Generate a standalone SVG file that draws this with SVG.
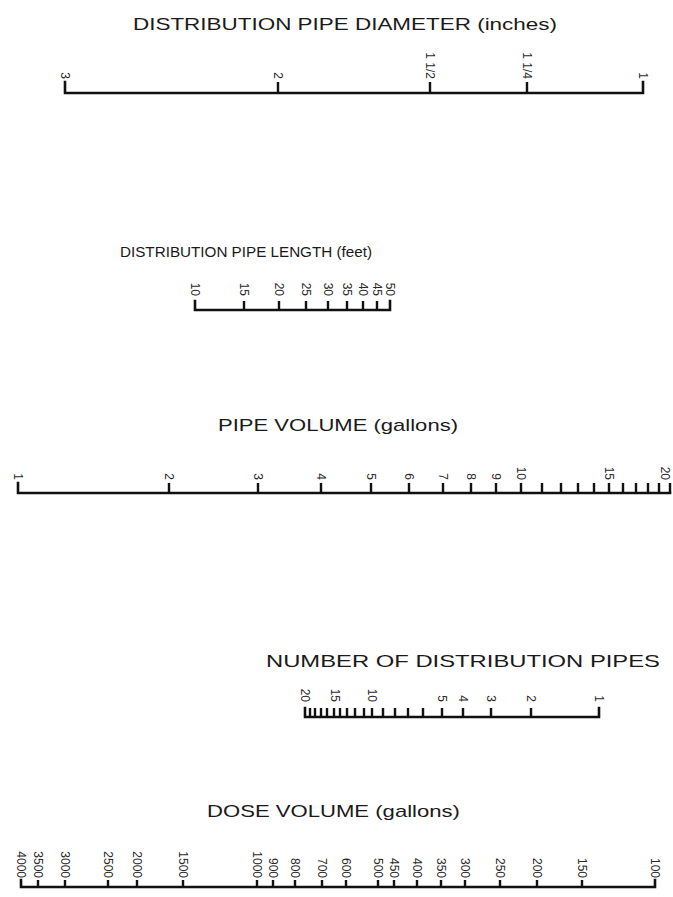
<svg xmlns="http://www.w3.org/2000/svg" width="673" height="897" viewBox="0 0 673 897">
<style>
.bg{fill:#fff}
.title{font-family:"Liberation Sans",Arial,sans-serif;font-size:17px;fill:#1a1a1a}
.small{font-size:14.5px}
.lbl{font-family:"Liberation Sans",Arial,sans-serif;font-size:12px;fill:#2a2a2a;text-anchor:end}
.axis{fill:none;stroke:#111;stroke-width:2.6;stroke-linecap:square}
.tick{fill:none;stroke:#111;stroke-width:2.4}
</style>
<rect class="bg" x="0" y="0" width="673" height="897"/>

<g id="diameter">
<text class="title" x="133" y="30" textLength="424" lengthAdjust="spacingAndGlyphs">DISTRIBUTION PIPE DIAMETER (inches)</text>
<path class="axis" d="M65,82 V93 H643 V82"/>
<path class="tick" d="M278,82V93 M430,82V93 M527,82V93"/>
<g class="lbl">
<text transform="translate(65,79) rotate(90)" dy="0.35em">3</text>
<text transform="translate(278,79) rotate(90)" dy="0.35em">2</text>
<text transform="translate(430,79) rotate(90)" dy="0.35em">1 1/2</text>
<text transform="translate(527,79) rotate(90)" dy="0.35em">1 1/4</text>
<text transform="translate(643,79) rotate(90)" dy="0.35em">1</text>
</g>
</g>

<g id="length">
<text class="title small" x="120" y="257" textLength="252" lengthAdjust="spacingAndGlyphs">DISTRIBUTION PIPE LENGTH (feet)</text>
<path class="axis" d="M195,301 V310 H390 V301"/>
<path class="tick" d="M244,301V310 M279,301V310 M306,301V310 M328,301V310 M347,301V310 M363,301V310 M377,301V310"/>
<g class="lbl">
<text transform="translate(195,296) rotate(90)" dy="0.35em">10</text>
<text transform="translate(244,296) rotate(90)" dy="0.35em">15</text>
<text transform="translate(279,296) rotate(90)" dy="0.35em">20</text>
<text transform="translate(306,296) rotate(90)" dy="0.35em">25</text>
<text transform="translate(328,296) rotate(90)" dy="0.35em">30</text>
<text transform="translate(347,296) rotate(90)" dy="0.35em">35</text>
<text transform="translate(363,296) rotate(90)" dy="0.35em">40</text>
<text transform="translate(377,296) rotate(90)" dy="0.35em">45</text>
<text transform="translate(390,296) rotate(90)" dy="0.35em">50</text>
</g>
</g>

<g id="volume">
<text class="title" x="218" y="431" textLength="240" lengthAdjust="spacingAndGlyphs">PIPE VOLUME (gallons)</text>
<path class="axis" d="M18,483 V493 H670"/>
<path class="tick" d="M169,483V493 M258,483V493 M321,483V493 M371,483V493 M409,483V493 M443,483V493 M471,483V493 M496,483V493 M521,483V493 M542,483V493 M561,483V493 M578,483V493 M594,483V493 M609,483V493 M623,483V493 M636,483V493 M648,483V493 M659,483V493 M670,483V493"/>
<g class="lbl">
<text transform="translate(18,480) rotate(90)" dy="0.35em">1</text>
<text transform="translate(169,480) rotate(90)" dy="0.35em">2</text>
<text transform="translate(258,480) rotate(90)" dy="0.35em">3</text>
<text transform="translate(321,480) rotate(90)" dy="0.35em">4</text>
<text transform="translate(371,480) rotate(90)" dy="0.35em">5</text>
<text transform="translate(409,480) rotate(90)" dy="0.35em">6</text>
<text transform="translate(443,480) rotate(90)" dy="0.35em">7</text>
<text transform="translate(471,480) rotate(90)" dy="0.35em">8</text>
<text transform="translate(496,480) rotate(90)" dy="0.35em">9</text>
<text transform="translate(521,480) rotate(90)" dy="0.35em">10</text>
<text transform="translate(609,480) rotate(90)" dy="0.35em">15</text>
<text transform="translate(665,480) rotate(90)" dy="0.35em">20</text>
</g>
</g>

<g id="pipes">
<text class="title" x="266" y="667" textLength="394" lengthAdjust="spacingAndGlyphs">NUMBER OF DISTRIBUTION PIPES</text>
<path class="axis" d="M305,708 V717 H599 V708"/>
<path class="tick" d="M310,708V717 M315,708V717 M321,708V717 M327,708V717 M334,708V717 M340,708V717 M347,708V717 M355,708V717 M364,708V717 M372,708V717 M383,708V717 M395,708V717 M408,708V717 M423,708V717 M442,708V717 M463,708V717 M491,708V717 M531,708V717"/>
<g class="lbl">
<text transform="translate(305,702) rotate(90)" dy="0.35em">20</text>
<text transform="translate(335,702) rotate(90)" dy="0.35em">15</text>
<text transform="translate(372,702) rotate(90)" dy="0.35em">10</text>
<text transform="translate(442,702) rotate(90)" dy="0.35em">5</text>
<text transform="translate(463,702) rotate(90)" dy="0.35em">4</text>
<text transform="translate(491,702) rotate(90)" dy="0.35em">3</text>
<text transform="translate(531,702) rotate(90)" dy="0.35em">2</text>
<text transform="translate(599,702) rotate(90)" dy="0.35em">1</text>
</g>
</g>

<g id="dose">
<text class="title" x="207" y="817" textLength="253" lengthAdjust="spacingAndGlyphs">DOSE VOLUME (gallons)</text>
<path class="axis" d="M21,880 V887 H655 V880"/>
<path class="tick" d="M38,880V887 M65,880V887 M108,880V887 M137,880V887 M183,880V887 M257,880V887 M273,880V887 M295,880V887 M322,880V887 M346,880V887 M378,880V887 M394,880V887 M417,880V887 M441,880V887 M465,880V887 M500,880V887 M537,880V887 M582,880V887"/>
<g class="lbl">
<text transform="translate(21,878) rotate(90)" dy="0.35em">4000</text>
<text transform="translate(38,878) rotate(90)" dy="0.35em">3500</text>
<text transform="translate(65,878) rotate(90)" dy="0.35em">3000</text>
<text transform="translate(108,878) rotate(90)" dy="0.35em">2500</text>
<text transform="translate(137,878) rotate(90)" dy="0.35em">2000</text>
<text transform="translate(183,878) rotate(90)" dy="0.35em">1500</text>
<text transform="translate(257,878) rotate(90)" dy="0.35em">1000</text>
<text transform="translate(273,878) rotate(90)" dy="0.35em">900</text>
<text transform="translate(295,878) rotate(90)" dy="0.35em">800</text>
<text transform="translate(322,878) rotate(90)" dy="0.35em">700</text>
<text transform="translate(346,878) rotate(90)" dy="0.35em">600</text>
<text transform="translate(378,878) rotate(90)" dy="0.35em">500</text>
<text transform="translate(394,878) rotate(90)" dy="0.35em">450</text>
<text transform="translate(417,878) rotate(90)" dy="0.35em">400</text>
<text transform="translate(441,878) rotate(90)" dy="0.35em">350</text>
<text transform="translate(465,878) rotate(90)" dy="0.35em">300</text>
<text transform="translate(500,878) rotate(90)" dy="0.35em">250</text>
<text transform="translate(537,878) rotate(90)" dy="0.35em">200</text>
<text transform="translate(582,878) rotate(90)" dy="0.35em">150</text>
<text transform="translate(655,878) rotate(90)" dy="0.35em">100</text>
</g>
</g>
</svg>
